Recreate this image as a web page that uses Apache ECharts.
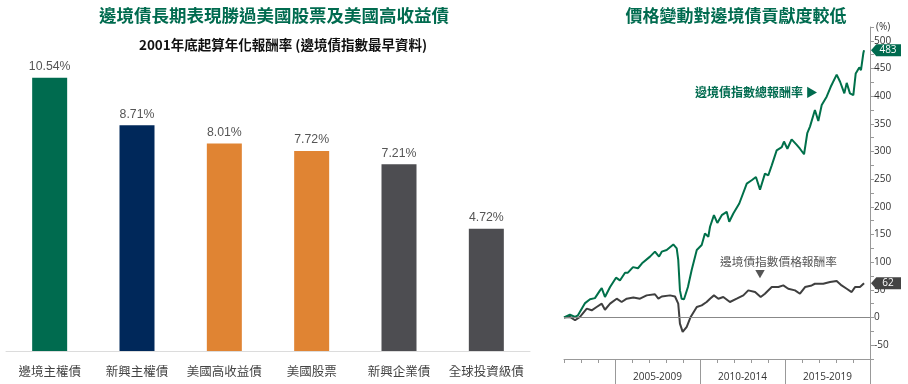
<!DOCTYPE html>
<html>
<head>
<meta charset="utf-8">
<script src="https://cdn.jsdelivr.net/npm/echarts@6/dist/echarts.min.js"></script>
<style>
html,body{margin:0;padding:0;background:#fff;}
#c{width:908px;height:384px;}
</style>
</head>
<body>
<div id="c"></div>
<script>
// ---- Bar chart data ----
const barCategories = ['邊境主權債','新興主權債','美國高收益債','美國股票','新興企業債','全球投資級債'];
const barValues = [10.54, 8.71, 8.01, 7.72, 7.21, 4.72];

// ---- Line chart data (decimal years, cumulative % return) ----
const totalYears = [2002.0,2002.06,2002.35,2002.65,2002.82,2003.24,2003.53,2003.82,2004.12,2004.22,2004.41,2004.71,2005.06,2005.29,2005.59,2005.76,2006.06,2006.35,2006.59,2007.06,2007.35,2007.59,2007.75,2008.04,2008.43,2008.63,2008.72,2008.82,2008.92,2009.06,2009.29,2009.51,2009.81,2010.10,2010.29,2010.49,2010.59,2010.82,2011.02,2011.28,2011.57,2011.72,2011.96,2012.31,2012.75,2013.04,2013.29,2013.53,2013.82,2014.02,2014.22,2014.51,2014.81,2014.94,2015.14,2015.39,2015.69,2015.88,2016.12,2016.31,2016.47,2016.76,2016.96,2017.16,2017.45,2017.69,2018.04,2018.24,2018.49,2018.63,2018.82,2019.02,2019.16,2019.37,2019.47,2019.61,2019.65];
const totalValues = [0,2,5,1,4,26,33,35,49,53,37,55,72,67,81,81,91,89,98,110,119,110,119,122,132,125,104,49,34,33,55,86,122,131,152,146,164,185,171,185,191,173,188,206,242,248,254,231,260,257,275,302,308,318,305,322,312,305,295,333,345,375,355,384,399,417,439,426,405,424,405,402,441,452,447,478,483];

const priceYears = [2002.0,2002.06,2002.35,2002.65,2002.94,2003.34,2003.63,2003.92,2004.22,2004.41,2004.71,2005.10,2005.39,2005.69,2006.08,2006.47,2006.86,2007.35,2007.55,2007.75,2008.24,2008.53,2008.72,2008.82,2008.98,2009.22,2009.45,2009.81,2010.10,2010.39,2010.59,2010.82,2011.08,2011.37,2011.76,2012.16,2012.55,2012.84,2013.24,2013.57,2013.82,2014.22,2014.61,2014.90,2015.19,2015.59,2015.88,2016.18,2016.57,2016.76,2017.25,2017.65,2018.04,2018.33,2018.63,2018.92,2019.12,2019.41,2019.65];
const priceValues = [0,2,1,-5,1,16,13,19,25,14,25,34,28,34,36,34,40,42,34,38,40,38,25,-11,-26,-17,1,19,22,28,34,40,34,37,28,34,40,49,46,37,43,55,55,58,52,49,43,55,58,61,61,64,66,58,52,46,55,55,62];

const yearGroupLabels = ['2005-2009','2010-2014','2015-2019'];
const yearGroupCenters = [2007.5, 2012.5, 2017.5];
const yearGroupBounds = [2005, 2010, 2015, 2020];
const yTicks = {min: -75, max: 525, step: 25};

// ---- build ----
const barColors = ['#006B4F','#00285A','#E08433','#E08433','#4D4D51','#4D4D51'];
const totalData = totalYears.map((t,i)=>[t,totalValues[i]]);
const priceData = priceYears.map((t,i)=>[t,priceValues[i]]);
const xMin = 2002, xMax = 2020;
const CJK = '"Noto Sans CJK TC","Noto Sans CJK SC",sans-serif';
const GREEN = '#006B4F';
const tagPath = 'path://M0,6 L6,0 L34,0 L34,12 L6,12 Z';

const chart = echarts.init(document.getElementById('c'), null, {renderer:'canvas'});
const option = {
  animation: false,
  backgroundColor: '#fff',
  textStyle: {fontFamily: CJK},
  title: [
    {text:'邊境債長期表現勝過美國股票及美國高收益債', left: 269, top: 2, textAlign:'center',
     textStyle:{color:GREEN, fontSize:17.5, fontWeight:'bold', fontFamily:CJK}},
    {text:'2001年底起算年化報酬率 (邊境債指數最早資料)', left: 278, top: 33, textAlign:'center',
     textStyle:{color:'#111', fontSize:13.5, fontWeight:'bold', fontFamily:CJK}},
    {text:'價格變動對邊境債貢獻度較低', left: 731, top: 2, textAlign:'center',
     textStyle:{color:GREEN, fontSize:17, fontWeight:'bold', fontFamily:CJK}}
  ],
  grid: [
    {left: 6, width: 524, top: 40, bottom: 33},
    {left: 564, right: 38, top: 27, bottom: 25}
  ],
  xAxis: [
    {gridIndex:0, type:'category', data: barCategories,
     axisLine:{lineStyle:{color:'#dcdcdc', width:1}},
     axisTick:{show:false},
     axisLabel:{interval:0, color:'#444', fontSize:12.5, margin:14, fontFamily:CJK}},
    {gridIndex:1, type:'value', min:xMin, max:xMax, interval:1,
     axisLine:{onZero:false, lineStyle:{color:'#999', width:1}},
     axisTick:{show:true, length:4, lineStyle:{color:'#999'}},
     axisLabel:{show:false}, splitLine:{show:false}},
    {gridIndex:1, type:'value', min:xMin, max:xMax, position:'bottom',
     axisLine:{show:false, onZero:false},
     axisTick:{show:true, length:26, customValues: yearGroupBounds, lineStyle:{color:'#999'}},
     axisLabel:{show:true, customValues: yearGroupCenters, margin:13, fontSize:10, color:'#333',
       fontFamily:'"Open Sans","Liberation Sans",sans-serif',
       formatter: v => yearGroupLabels[yearGroupCenters.indexOf(v)] || ''},
     splitLine:{show:false}}
  ],
  yAxis: [
    {gridIndex:0, type:'value', min:0, max:12, show:false},
    {gridIndex:1, type:'value', position:'right', min:yTicks.min, max:yTicks.max, interval:yTicks.step,
     axisLine:{show:true, onZero:false, lineStyle:{color:'#999'}},
     axisTick:{show:true, length:4, lineStyle:{color:'#999'}},
     axisLabel:{color:'#333', fontSize:10, margin:4, fontFamily:'"Open Sans","Liberation Sans",sans-serif',
       formatter: v => (v % 50 === 0 ? String(v) : '')},
     splitLine:{show:false}}
  ],
  graphic: [
    {type:'text', left: 876, top: 22, style:{text:'(%)', fontSize:10, fill:'#333', fontFamily:'"Open Sans",sans-serif'}},
    {type:'text', left: 695, top: 86, style:{text:'邊境債指數總報酬率 ▶', fontSize:12, fontWeight:'bold', fill:GREEN, fontFamily:CJK}},
    {type:'text', left: 720, top: 256, style:{text:'邊境債指數價格報酬率', fontSize:11.7, fill:'#555', fontFamily:CJK}},
    {type:'text', left: 755, top: 269, style:{text:'▼', fontSize:10, fill:'#555', fontFamily:CJK}}
  ],
  series: [
    {type:'bar', xAxisIndex:0, yAxisIndex:0, barWidth:35,
     data: barValues.map((v,i)=>({value:v, itemStyle:{color:barColors[i]}})),
     label:{show:true, position:'top', distance:5, color:'#555', fontSize:12.3,
       fontFamily:'"Liberation Sans",Arial,sans-serif', formatter: p => p.value.toFixed(2)+'%'}},
    {type:'line', xAxisIndex:1, yAxisIndex:1, data: priceData, showSymbol:false, clip:false,
     lineStyle:{color:'#3f3f3f', width:2}, itemStyle:{color:'#3f3f3f'}, z:3,
     markLine:{silent:true, symbol:'none', label:{show:false},
       lineStyle:{color:'#888', width:1, type:'solid'}, data:[{yAxis:0}]},
     markPoint:{symbol:tagPath, symbolSize:[30,12], symbolOffset:[16,0], silent:true,
       itemStyle:{color:'#444'},
       label:{show:true, color:'#fff', fontSize:10, offset:[2,0], fontFamily:'"Open Sans",sans-serif', formatter: p => String(p.value)},
       data:[{coord:[xMax, priceValues[priceValues.length-1]], value: priceValues[priceValues.length-1]}]}},
    {type:'line', xAxisIndex:1, yAxisIndex:1, data: totalData, showSymbol:false, clip:false,
     lineStyle:{color:'#00704A', width:2}, itemStyle:{color:'#00704A'}, z:4,
     markPoint:{symbol:tagPath, symbolSize:[30,12], symbolOffset:[16,0], silent:true,
       itemStyle:{color:GREEN},
       label:{show:true, color:'#fff', fontSize:10, offset:[2,0], fontFamily:'"Open Sans",sans-serif', formatter: p => String(p.value)},
       data:[{coord:[xMax, totalValues[totalValues.length-1]], value: totalValues[totalValues.length-1]}]}}
  ]
};
chart.setOption(option);
</script>
</body>
</html>
